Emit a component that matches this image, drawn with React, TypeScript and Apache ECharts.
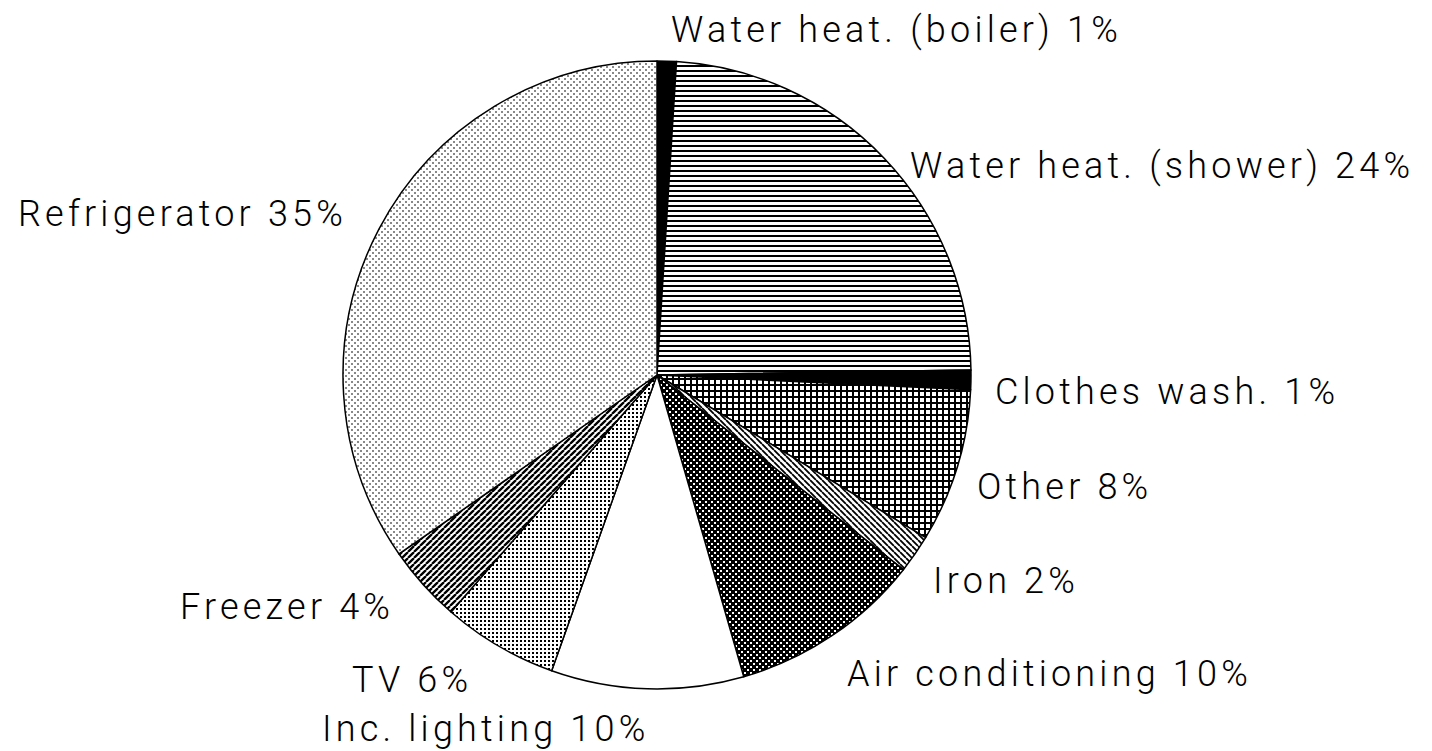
import React, { useEffect, useRef } from "react";
import * as echarts from "echarts";

const CATEGORIES = [
  "Water heat. (boiler)",
  "Water heat. (shower)",
  "Clothes wash.",
  "Other",
  "Iron",
  "Air conditioning",
  "Inc. lighting",
  "TV",
  "Freezer",
  "Refrigerator",
];
const VALUES = [1, 24, 1, 8, 2, 10, 10, 6, 4, 35];
const PATTERNS = ["solid", "hlines", "solid", "grid", "diagA", "dense", "white", "dots", "diagB", "fine"];

// label anchor (left x, vertical middle y) in pixels
const LABEL_POS: [number, number][] = [
  [671, 30],
  [910, 166],
  [995, 392],
  [977, 487],
  [933, 581],
  [847, 674],
  [322, 729],
  [352, 680],
  [180, 607],
  [18, 214],
];

const FONT = "Roboto, 'Liberation Sans', Arial, sans-serif";
const LETTER_SPACING = 4.2;

function tile(w: number, h: number, draw: (c: CanvasRenderingContext2D) => void) {
  const cv = document.createElement("canvas");
  cv.width = w;
  cv.height = h;
  const ctx = cv.getContext("2d")!;
  ctx.fillStyle = "#fff";
  ctx.fillRect(0, 0, w, h);
  draw(ctx);
  return { image: cv, repeat: "repeat" } as any;
}

function diag(s: number, lw: number, up: boolean, color: string) {
  return tile(s, s, (c) => {
    c.strokeStyle = color;
    c.lineWidth = lw;
    c.beginPath();
    for (let k = -1; k <= 1; k++) {
      if (up) {
        c.moveTo(k * s, s);
        c.lineTo(k * s + s, 0);
      } else {
        c.moveTo(k * s, 0);
        c.lineTo(k * s + s, s);
      }
    }
    c.stroke();
  });
}

function makeFill(kind: string): any {
  switch (kind) {
    case "solid":
      return "#000";
    case "white":
      return "#fff";
    case "hlines":
      return tile(5, 5, (c) => {
        c.fillStyle = "#000";
        c.fillRect(0, 0, 5, 2);
      });
    case "grid":
      return tile(6, 6, (c) => {
        c.fillStyle = "#000";
        c.fillRect(0, 0, 6, 2);
        c.fillRect(0, 0, 2, 6);
      });
    case "diagA":
      return diag(6, 1.8, false, "#000");
    case "diagB":
      return diag(6, 2.3, true, "#000");
    case "dense":
      return tile(6, 6, (c) => {
        c.fillStyle = "#000";
        c.fillRect(0, 0, 6, 6);
        c.fillStyle = "#fff";
        c.fillRect(0, 0, 2, 2);
        c.fillRect(3, 3, 2, 2);
      });
    case "dots":
      return tile(4, 4, (c) => {
        c.fillStyle = "#000";
        c.fillRect(0, 0, 2, 2);
      });
    case "fine":
      return tile(6, 6, (c) => {
        c.fillStyle = "#888";
        c.fillRect(0, 0, 2, 2);
        c.fillRect(3, 3, 2, 2);
      });
  }
  return "#ccc";
}

export default function App() {
  const ref = useRef<HTMLDivElement>(null);
  useEffect(() => {
    document.body.style.margin = "0";
    const el = ref.current!;
    const chart = echarts.init(el, undefined, { renderer: "svg" });
    const data = CATEGORIES.map((name, i) => ({
      name,
      value: VALUES[i],
      itemStyle: { color: makeFill(PATTERNS[i]) },
    }));
    chart.setOption({
      animation: false,
      backgroundColor: "#fff",
      series: [
        {
          type: "pie",
          silent: true,
          center: [657, 375],
          radius: 314,
          startAngle: 90,
          clockwise: true,
          data,
          itemStyle: { borderColor: "#000", borderWidth: 1.5 },
          label: {
            show: true,
            position: "outside",
            formatter: (p: any) => `${p.name} ${VALUES[p.dataIndex]}%`,
            color: "#000",
            fontFamily: FONT,
            fontWeight: 300,
            fontSize: 36,
          },
          labelLine: { show: false },
          labelLayout: (p: any) => ({
            x: LABEL_POS[p.dataIndex][0],
            y: LABEL_POS[p.dataIndex][1],
            align: "left",
            verticalAlign: "middle",
          }),
          emphasis: { disabled: true },
        },
      ],
    });
    const applySpacing = () => {
      el.querySelectorAll("text").forEach((t) => t.setAttribute("letter-spacing", String(LETTER_SPACING)));
    };
    applySpacing();
    chart.on("finished", applySpacing);
    return () => chart.dispose();
  }, []);
  return <div ref={ref} style={{ width: 1432, height: 751 }} />;
}
